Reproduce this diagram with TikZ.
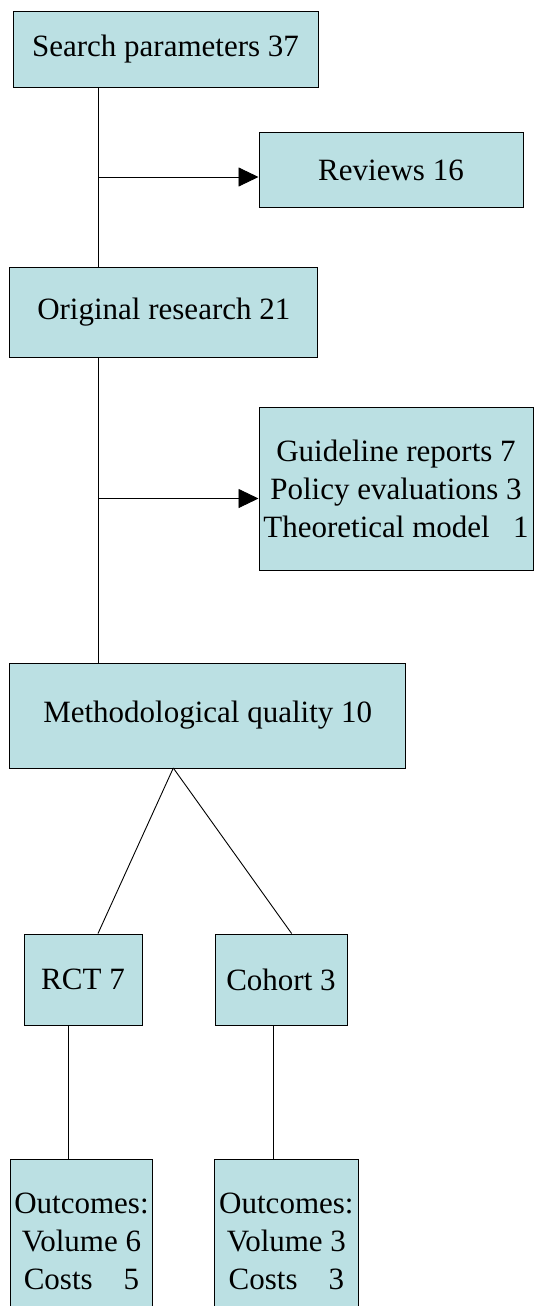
\documentclass[tikz,border=0pt]{standalone}
\usepackage{fontspec}
\setmainfont{Liberation Serif}
\usetikzlibrary{arrows.meta}
\tikzstyle{box}=[
    rectangle,
    draw=black,
    line width=1pt,
    fill={rgb,255:red,187;green,224;blue,227},
    text=black,
    align=center,
    inner sep=0pt,
    font=\fontsize{31}{38}\selectfont]
\tikzstyle{link}=[line width=0.9pt]
\tikzstyle{arrow}=[line width=0.9pt,-{Triangle[length=20pt,width=19pt]}]

\begin{document}
\begin{tikzpicture}[x=1pt,y=1pt,yscale=-1,xscale=1]
\useasboundingbox (0,0) rectangle (536,1306);
\clip (0,0) rectangle (536,1306);

% Boxes
\node [box,minimum width=305pt,minimum height=76pt] (search) at (165.5,49.3) {Search parameters 37};
\node [box,minimum width=264pt,minimum height=75pt] (reviews) at (391,170) {Reviews 16};
\node [box,minimum width=308pt,minimum height=90pt] (research) at (163.8,312.3) {Original research 21};
\node [box,minimum width=274pt,minimum height=163pt] (other) at (396,488.5) {Guideline reports 7\\Policy evaluations 3\\Theoretical model~~~1};
\node [box,minimum width=396pt,minimum height=105pt] (quality) at (207.7,715.5) {Methodological quality 10};
\node [box,minimum width=118pt,minimum height=91pt] (rct) at (83,979.5) {RCT 7};
\node [box,minimum width=132pt,minimum height=91pt] (cohort) at (281,979.5) {Cohort 3};
\node [box,minimum width=142.5pt,minimum height=164pt,anchor=north] (rctout) at (81.5,1159) {Outcomes:\\Volume 6\\Costs~~~~5};
\node [box,minimum width=143.3pt,minimum height=164pt,anchor=north] (cohortout) at (286.4,1159) {Outcomes:\\Volume 3\\Costs~~~~3};

% Branch points
\coordinate (trunk) at (98,0);
\coordinate (fork1) at (98,177);
\coordinate (fork2) at (98,498.5);
\coordinate (apex) at (173.3,768);
\coordinate (rctx) at (68.7,0);
\coordinate (cohortx) at (273.5,0);

% Lines
\draw [link] (search.south -| trunk) -- (research.north -| trunk);
\draw [arrow] (fork1) -- (fork1 -| reviews.west);
\draw [link] (research.south -| trunk) -- (quality.north -| trunk);
\draw [arrow] (fork2) -- (fork2 -| other.west);
\draw [link] (apex) -- ([xshift=15pt]rct.north);
\draw [link] (apex) -- ([xshift=10.6pt]cohort.north);
\draw [link] (rct.south -| rctx) -- (rctout.north -| rctx);
\draw [link] (cohort.south -| cohortx) -- (cohortout.north -| cohortx);

\end{tikzpicture}
\end{document}
